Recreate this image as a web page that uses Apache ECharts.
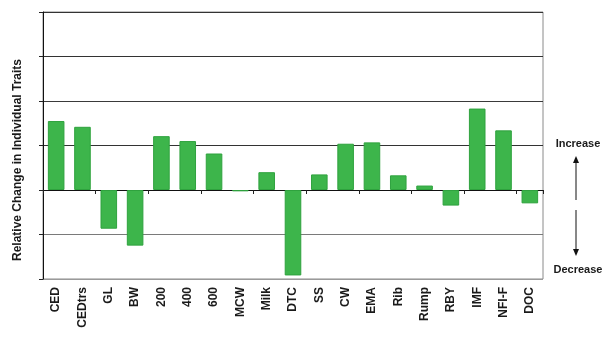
<!DOCTYPE html>
<html>
<head>
<meta charset="utf-8">
<script src="https://cdn.jsdelivr.net/npm/echarts@6/dist/echarts.min.js"></script>
<style>
  html, body { margin: 0; padding: 0; background: #fff; }
  #chart { width: 615px; height: 337px; }
</style>
</head>
<body>
<div id="chart"></div>
<script>
// Trait abbreviations along the bottom axis
const traits = ['CED', 'CEDtrs', 'GL', 'BW', '200', '400', '600', 'MCW', 'Milk', 'DTC',
                'SS', 'CW', 'EMA', 'Rib', 'Rump', 'RBY', 'IMF', 'NFI-F', 'DOC'];
// Relative change per trait (in gridline units)
const relativeChange = [1.55, 1.42, -0.87, -1.25, 1.21, 1.10, 0.82, -0.03, 0.40, -1.92,
                        0.35, 1.04, 1.07, 0.33, 0.10, -0.35, 1.83, 1.34, -0.30];
// Value axis range and spacing
const yMin = -2, yMax = 4, yStep = 1;

const chart = echarts.init(document.getElementById('chart'), null, { renderer: 'canvas' });

const labelFont = { fontFamily: 'Liberation Sans, Arial, sans-serif', fontWeight: 'bold' };

chart.setOption({
  animation: false,
  backgroundColor: '#ffffff',
  grid: {
    left: 43, right: 72, top: 12, bottom: 58,
    show: true, borderColor: '#8a8a8a', borderWidth: 1, backgroundColor: 'transparent'
  },
  xAxis: [
    {
      // axis line through zero with ticks between categories
      type: 'category',
      data: traits,
      axisLine: { onZero: true, lineStyle: { color: '#111', width: 1 } },
      axisTick: { show: true, length: 4, lineStyle: { color: '#222' } },
      axisLabel: { show: false },
      splitLine: { show: false }
    },
    {
      // category names along the bottom
      type: 'category',
      data: traits,
      position: 'bottom',
      axisLine: { show: false, onZero: false },
      axisTick: { show: false },
      axisLabel: {
        show: true, rotate: 90, margin: 8, interval: 0,
        color: '#1a1a1a', fontSize: 12, ...labelFont
      }
    }
  ],
  yAxis: {
    type: 'value',
    min: yMin, max: yMax, interval: yStep,
    axisLine: { show: true, lineStyle: { color: '#111', width: 1 } },
    axisTick: { show: true, length: 4, lineStyle: { color: '#222' } },
    axisLabel: { show: false },
    splitLine: {
      show: true,
      lineStyle: { color: ['#9a9a9a', '#7a7a7a', '#333', '#333', '#3a3a3a', '#333', '#333'], width: 1 }
    }
  },
  series: [{
    type: 'bar',
    xAxisIndex: 0,
    data: relativeChange,
    barWidth: '63%',
    itemStyle: { color: '#3db54b', borderColor: '#2fa23e', borderWidth: 1 }
  }],
  graphic: [
    {
      type: 'text', x: 18, y: 160, rotation: Math.PI / 2,
      style: {
        text: 'Relative Change in Individual Traits',
        fill: '#1a1a1a', font: 'bold 12px "Liberation Sans", Arial, sans-serif',
        textAlign: 'center', textVerticalAlign: 'middle'
      }
    },
    {
      type: 'text', x: 578, y: 144,
      style: {
        text: 'Increase', fill: '#1a1a1a',
        font: 'bold 11px "Liberation Sans", Arial, sans-serif',
        textAlign: 'center', textVerticalAlign: 'middle'
      }
    },
    {
      type: 'text', x: 578, y: 270,
      style: {
        text: 'Decrease', fill: '#1a1a1a',
        font: 'bold 11px "Liberation Sans", Arial, sans-serif',
        textAlign: 'center', textVerticalAlign: 'middle'
      }
    },
    // upward arrow
    { type: 'line', shape: { x1: 576, y1: 162, x2: 576, y2: 200 }, style: { stroke: '#111', lineWidth: 1 } },
    { type: 'polygon', shape: { points: [[576, 156], [573, 163], [579, 163]] }, style: { fill: '#111' } },
    // downward arrow
    { type: 'line', shape: { x1: 576, y1: 210, x2: 576, y2: 249 }, style: { stroke: '#111', lineWidth: 1 } },
    { type: 'polygon', shape: { points: [[576, 256], [573, 249], [579, 249]] }, style: { fill: '#111' } }
  ]
});
</script>
</body>
</html>
